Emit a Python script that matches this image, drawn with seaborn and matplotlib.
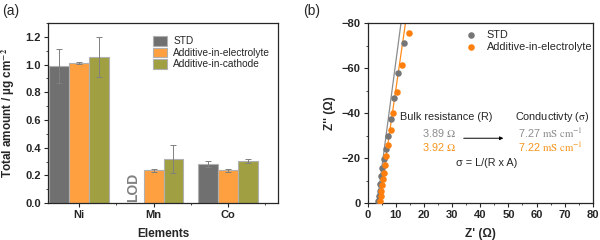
import numpy as np
import pandas as pd
from matplotlib import pyplot as plt
from matplotlib.ticker import AutoMinorLocator, MultipleLocator
import seaborn as sns

# panel (a) data
elements = ['Ni', 'Mn', 'Co']
groups = ['STD', 'Additive-in-electrolyte', 'Additive-in-cathode']
std_vals = [0.99, np.nan, 0.282]
std_err = [0.125, np.nan, 0.02]
elec_vals = [1.01, 0.236, 0.236]
elec_err = [0.008, 0.01, 0.012]
cath_vals = [1.056, 0.32, 0.305]
cath_err = [0.145, 0.1, 0.016]

# panel (b) data
std_zr = [3.8, 4.0, 4.2, 4.4, 4.7, 5.2, 5.8, 6.4, 7.2, 8.1, 9.2, 10.7, 12.8]
std_zi = [-1, -3, -5.5, -8.5, -11.9, -15.6, -19.4, -24.1, -30.0, -37.3, -46.5, -57.7, -71.2]
ele_zr = [4.4, 4.6, 4.8, 5.0, 5.3, 5.6, 6.2, 6.6, 7.3, 8.3, 9.0, 10.5, 12.3, 14.5]
ele_zi = [-1, -3, -5.5, -8, -10.5, -13.3, -16.7, -20.9, -25.8, -32.3, -39.8, -49.5, -61.3, -75.6]
std_fit_x = [3.3, 11.8]
std_fit_y = [0, -80]
ele_fit_x = [4.1, 13.4]
ele_fit_y = [0, -80]

colors = ['#707070', '#FFA040', '#A0A043']
gray_txt = '#8c8c8c'
orange_txt = '#F7941D'

sns.set_style('ticks')
plt.rcParams['font.family'] = ['Liberation Sans', 'DejaVu Sans']
plt.rcParams['mathtext.fontset'] = 'stix'

fig = plt.figure(figsize=(6, 2.4), dpi=100)
ax1 = fig.add_axes([0.08, 0.154, 0.383, 0.75])
ax2 = fig.add_axes([0.613, 0.154, 0.375, 0.75])

rows = []
for g, v, e in zip(groups, [std_vals, elec_vals, cath_vals], [std_err, elec_err, cath_err]):
    for el, vv, ee in zip(elements, v, e):
        rows.append({'Elements': el, 'group': g, 'value': vv, 'err': ee})
df = pd.DataFrame(rows)

sns.barplot(data=df, x='Elements', y='value', hue='group', palette=colors,
            errorbar=None, ax=ax1, edgecolor='#b0b0b0', linewidth=0.8, width=0.8,
            saturation=1)
# error bars at bar centres
for cont, g in zip(ax1.containers, groups):
    sub = df[df['group'] == g].dropna()
    xs = [b.get_x() + b.get_width() / 2 for b in cont]
    hs = [b.get_height() for b in cont]
    errs = [sub.loc[np.isclose(sub['value'], h), 'err'].iloc[0] for h in hs]
    ax1.errorbar(xs, hs, yerr=errs, fmt='none', ecolor='#808080',
                 elinewidth=0.7, capsize=2, capthick=0.7)

ax1.text(-0.27 + 1, 0.01, 'LOD', rotation=90, ha='center', va='bottom',
         fontsize=10, fontweight='bold', color='#808080', family='Liberation Sans')
ax1.set_ylim(0, 1.3)
ax1.set_xlim(-0.42, 2.67)
ax1.yaxis.set_major_locator(MultipleLocator(0.2))
ax1.yaxis.set_minor_locator(AutoMinorLocator(2))
ax1.xaxis.set_minor_locator(MultipleLocator(0.5))
ax1.set_xlabel('Elements', fontsize=8.5, fontweight='bold', labelpad=6)
ax1.set_ylabel('Total amount / µg cm$^{\\mathbf{-2}}$', fontsize=8.5, fontweight='bold', labelpad=6)
ax1.tick_params(labelsize=8, length=3, width=0.8, pad=2)
ax1.tick_params(which='minor', length=1.5, width=0.6)
for lab in ax1.get_xticklabels() + ax1.get_yticklabels():
    lab.set_fontweight('bold')
ax1.legend(loc='upper left', frameon=False, fontsize=7.3, handlelength=1.4,
           handleheight=1.1, labelspacing=0.12, borderaxespad=0.0, handletextpad=0.6,
           bbox_to_anchor=(0.44, 0.95))
for sp in ax1.spines.values():
    sp.set_visible(True)
    sp.set_linewidth(0.9)

# panel (b)
ax2.plot(std_fit_x, std_fit_y, color='#8c8c8c', lw=0.9, zorder=2)
ax2.plot(ele_fit_x, ele_fit_y, color='#FF8C1A', lw=0.9, zorder=2)
sns.scatterplot(x=std_zr, y=std_zi, color='#767676', s=22, linewidth=0, ax=ax2,
                label='STD', zorder=3)
sns.scatterplot(x=ele_zr, y=ele_zi, color='#FF7F0E', s=22, linewidth=0, ax=ax2,
                label='Additive-in-electrolyte', zorder=3)
ax2.set_xlim(0, 80)
ax2.set_ylim(0, -80)
ax2.xaxis.set_major_locator(MultipleLocator(10))
ax2.yaxis.set_major_locator(MultipleLocator(20))
ax2.xaxis.set_minor_locator(AutoMinorLocator(2))
ax2.yaxis.set_minor_locator(AutoMinorLocator(2))
ax2.tick_params(labelsize=8, length=3, width=0.8, pad=2)
ax2.tick_params(which='minor', length=1.5, width=0.6)
for lab in ax2.get_xticklabels() + ax2.get_yticklabels():
    lab.set_fontweight('bold')
ax2.set_xlabel("Z' (Ω)", fontsize=8.5, fontweight='bold', labelpad=6)
ax2.set_ylabel("Z'' (Ω)", fontsize=8.5, fontweight='bold', labelpad=4)
ax2.legend(loc='upper left', frameon=False, fontsize=7.8, handletextpad=0.5,
           labelspacing=0.2, markerscale=1.0, borderaxespad=0.0,
           bbox_to_anchor=(0.39, 0.985))
for sp in ax2.spines.values():
    sp.set_visible(True)
    sp.set_linewidth(0.9)

ax2.text(11.3, -38.3, 'Bulk resistance (R)', fontsize=7.8, va='center', ha='left')
ax2.text(25.2, -31, '3.89 $\\Omega$', fontsize=7.8, va='center', ha='center', color=gray_txt)
ax2.text(25.2, -25, '3.92 $\\Omega$', fontsize=7.8, va='center', ha='center', color=orange_txt)
ax2.text(42.4, -17.9, 'σ = L/(R x A)', fontsize=7.8, va='center', ha='center')
ax2.annotate('', xy=(48.2, -28.8), xytext=(34.1, -28.8),
             arrowprops=dict(arrowstyle='-|>', color='black', lw=0.7,
                             mutation_scale=5, shrinkA=0, shrinkB=0))
ax2.text(52.4, -38.3, 'Conductivty ($\\mathrm{\\sigma}$)', fontsize=7.8, va='center', ha='left')
ax2.text(53.3, -31, '7.27 $\\mathrm{mS\\ cm^{-1}}$', fontsize=7.8, va='center', ha='left', color=gray_txt)
ax2.text(53.3, -25, '7.22 $\\mathrm{mS\\ cm^{-1}}$', fontsize=7.8, va='center', ha='left', color=orange_txt)

fig.text(0.003, 0.985, '(a)', fontsize=10, va='top', ha='left')
fig.text(0.505, 0.985, '(b)', fontsize=10, va='top', ha='left')

fig.savefig('out.png', dpi=100)
